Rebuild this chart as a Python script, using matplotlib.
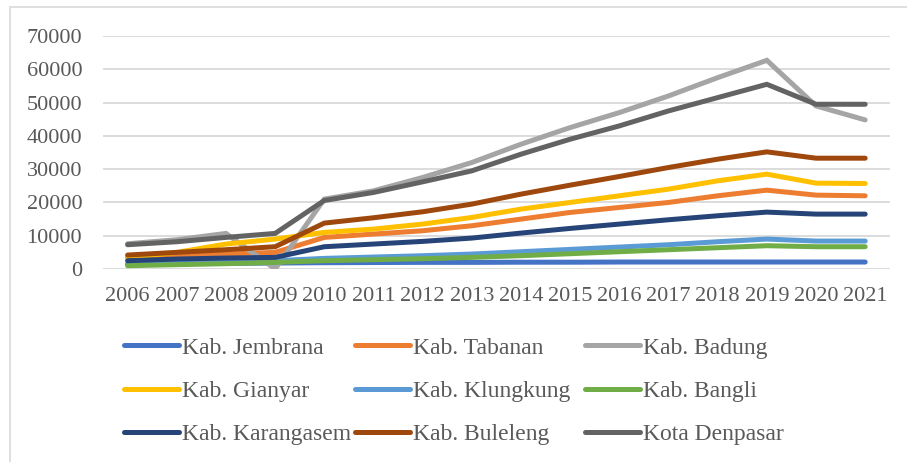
import matplotlib
matplotlib.use("Agg")
import matplotlib.pyplot as plt
from matplotlib.patches import Rectangle

# ── Data ──────────────────────────────────────────────────────────────────────

years = list(range(2006, 2022))

jembrana   = [1500, 1600, 1700, 1800, 1900, 1950, 2000, 2000, 2050, 2050, 2100, 2100, 2100, 2100, 2100, 2100]
tabanan    = [3500, 4000, 4500, 5000, 9500, 10500, 11500, 13000, 15000, 17000, 18500, 20000, 22000, 23700, 22200, 22000]
badung     = [7600, 8800, 10700, 0, 21000, 23500, 27500, 32000, 37500, 42500, 47000, 52000, 57500, 62700, 49000, 44800]
gianyar    = [3500, 5000, 7500, 9000, 11000, 12000, 13500, 15500, 18000, 20000, 22000, 24000, 26500, 28500, 25800, 25700]
klungkung  = [1500, 1800, 2100, 2500, 3200, 3600, 4000, 4500, 5200, 5900, 6600, 7300, 8200, 9000, 8400, 8400]
bangli     = [1000, 1300, 1600, 2000, 2500, 2800, 3100, 3500, 4000, 4600, 5200, 5800, 6400, 7000, 6700, 6700]
karangasem = [2500, 3000, 3300, 3500, 6700, 7500, 8300, 9300, 10800, 12200, 13500, 14800, 16000, 17100, 16500, 16500]
buleleng   = [4200, 5000, 5800, 6700, 13800, 15400, 17200, 19500, 22500, 25200, 27800, 30500, 33000, 35200, 33300, 33300]
denpasar   = [7300, 8200, 9500, 10700, 20600, 23000, 26200, 29500, 34500, 39000, 43000, 47500, 51500, 55500, 49500, 49500]

names = ["Kab. Jembrana", "Kab. Tabanan", "Kab. Badung",
         "Kab. Gianyar", "Kab. Klungkung", "Kab. Bangli",
         "Kab. Karangasem", "Kab. Buleleng", "Kota Denpasar"]
series = [jembrana, tabanan, badung, gianyar, klungkung, bangli,
          karangasem, buleleng, denpasar]
colours = ["#4472C4", "#ED7D31", "#A5A5A5", "#FFC000", "#5B9BD5",
           "#70AD47", "#264478", "#9E480E", "#636363"]

TEXT = "#595959"
FONT = ["Liberation Serif", "DejaVu Serif"]

# ── Figure ────────────────────────────────────────────────────────────────────

plt.rcParams["font.family"] = FONT
fig = plt.figure(figsize=(9.07, 4.62), dpi=100)
ax = fig.add_axes([0.1136, 0.4177, 0.8674, 0.5043])

handles = []
for name, vals, col in zip(names, series, colours):
    (ln,) = ax.plot(years, vals, color=col, lw=3.6, solid_capstyle="round",
                    solid_joinstyle="miter", label=name)
    handles.append(ln)

ax.set_xlim(2005.5, 2021.5)
ax.set_ylim(0, 70000)
ax.set_yticks(range(0, 70001, 10000))
ax.set_xticks(years)
ax.set_xticklabels([str(y) for y in years])
ax.grid(axis="y", color="#D9D9D9", lw=1.3)
ax.set_axisbelow(True)
for s in ax.spines.values():
    s.set_visible(False)
ax.tick_params(length=0, labelsize=16, colors=TEXT)
ax.tick_params(axis="x", pad=13)
ax.tick_params(axis="y", pad=15)

# legend: three single-column legends so the columns sit where Excel puts them
col_x = [124 / 907, 355 / 907, 585 / 907]
for c, x in enumerate(col_x):
    idx = [c, c + 3, c + 6]
    leg = fig.legend([handles[i] for i in idx], [names[i] for i in idx],
                     loc="center left", bbox_to_anchor=(x, 1 - 391 / 462),
                     frameon=False, fontsize=17, handlelength=2.35,
                     handletextpad=0.12, labelspacing=0.92,
                     borderpad=0, borderaxespad=0)
    for t in leg.get_texts():
        t.set_color(TEXT)

# chart-area border (top and left visible)
fig.patches.append(Rectangle((10 / 907, -0.2), 1.2, 1.2 - 7 / 462,
                             transform=fig.transFigure, fill=False,
                             edgecolor="#D9D9D9", lw=1.2))

fig.savefig("out.png", dpi=100)
